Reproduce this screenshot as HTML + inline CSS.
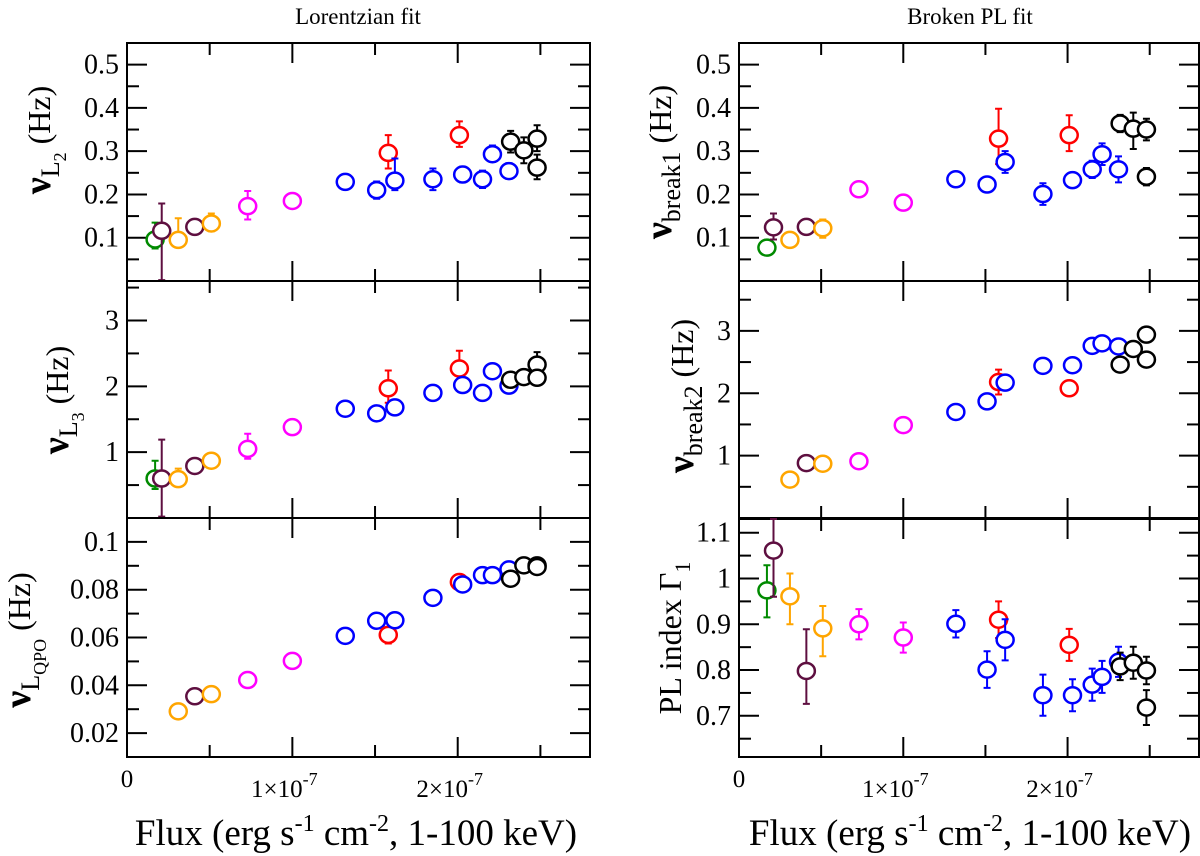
<!DOCTYPE html>
<html><head><meta charset="utf-8"><style>
html,body{margin:0;padding:0;background:#fff;}
svg{display:block;font-family:"Liberation Serif",serif;}
</style></head><body>
<svg id="chart" width="1200" height="856" viewBox="0 0 1200 856" xmlns="http://www.w3.org/2000/svg">
<text x="358" y="24" font-size="23" text-anchor="middle">Lorentzian fit</text>
<text x="970" y="24" font-size="23" text-anchor="middle">Broken PL fit</text>
<g id="layer"></g>
</svg>
<script>
const flux=[0.17,0.21,0.31,0.41,0.51,0.73,1.00,1.32,1.51,1.58,1.62,1.85,2.01,2.03,2.15,2.21,2.31,2.32,2.40,2.48,2.48];
const groups=["g","m","o","m","o","p","p","b","b","r","b","b","r","b","b","b","b","k","k","k","k"];
const xTickLabels=["0","1×10","2×10"];
// Left top: nu L2
const ltVal=[0.096,0.116,0.095,0.125,0.133,0.173,0.185,0.229,0.21,0.296,0.232,0.235,0.337,0.246,0.235,0.293,0.254,0.322,0.302,0.329,0.262];
const ltLo=[0.075,0.002,0.085,0.115,0.115,0.142,0.178,0.222,0.19,0.26,0.21,0.21,0.31,0.228,0.215,0.275,0.236,0.297,0.272,0.30,0.235];
const ltHi=[0.135,0.179,0.145,0.135,0.156,0.208,0.192,0.236,0.23,0.337,0.283,0.26,0.369,0.264,0.255,0.313,0.272,0.347,0.332,0.36,0.292];
// Left middle: nu L3
const lmVal=[0.60,0.60,0.59,0.79,0.87,1.05,1.38,1.66,1.59,1.97,1.68,1.90,2.27,2.02,1.90,2.23,2.01,2.10,2.14,2.33,2.13];
const lmLo=[0.44,0.02,0.52,0.74,0.80,0.90,1.33,1.60,1.51,1.75,1.61,1.82,2.20,1.94,1.85,2.15,1.95,2.02,2.06,2.25,2.05];
const lmHi=[0.87,1.19,0.75,0.84,0.97,1.28,1.43,1.72,1.67,2.24,1.75,1.98,2.54,2.10,1.95,2.31,2.07,2.18,2.22,2.52,2.21];
// Left bottom: nu LQPO
const lbVal=[null,null,0.0291,0.0354,0.0363,0.0422,0.0502,0.0607,0.0670,0.0611,0.0672,0.0766,0.0832,0.0822,0.0861,0.0861,0.0885,0.0846,0.0902,0.0902,0.0895];
const lbLo=[null,null,0.0285,0.0350,0.0358,0.0418,0.0498,0.0603,0.0666,0.0575,0.0668,0.0762,0.0828,0.0818,0.0857,0.0857,0.0881,0.0842,0.0898,0.0898,0.0891];
const lbHi=[null,null,0.0297,0.0358,0.0368,0.0426,0.0506,0.0611,0.0674,0.0615,0.0676,0.0770,0.0836,0.0826,0.0865,0.0865,0.0889,0.0850,0.0906,0.0906,0.0899];
// Right top: nu break1
const rtVal=[0.077,0.124,0.095,0.125,0.122,0.212,0.181,0.235,0.223,0.329,0.275,0.201,0.337,0.233,0.258,0.293,0.258,0.364,0.352,0.350,0.241];
const rtLo=[0.072,0.096,0.09,0.11,0.10,0.197,0.176,0.22,0.208,0.27,0.25,0.176,0.30,0.228,0.238,0.268,0.228,0.344,0.305,0.325,0.221];
const rtHi=[0.082,0.156,0.10,0.14,0.142,0.227,0.186,0.25,0.238,0.398,0.30,0.226,0.383,0.238,0.278,0.318,0.288,0.384,0.389,0.375,0.261];
// Right middle: nu break2
const rmVal=[null,null,0.616,0.88,0.87,0.91,1.49,1.70,1.87,2.18,2.17,2.44,2.08,2.45,2.76,2.80,2.75,2.46,2.71,2.94,2.54];
const rmLo=[null,null,0.60,0.80,0.85,0.89,1.47,1.68,1.85,1.98,2.15,2.34,1.98,2.35,2.66,2.72,2.70,2.42,2.66,2.84,2.50];
const rmHi=[null,null,0.63,0.96,0.89,0.93,1.51,1.72,1.89,2.38,2.19,2.54,2.18,2.55,2.86,2.88,2.80,2.50,2.76,3.04,2.58];
// Right bottom: PL index Gamma1
const rbVal=[0.974,1.061,0.961,0.798,0.891,0.900,0.871,0.901,0.801,0.910,0.866,0.745,0.855,0.745,0.768,0.785,0.818,0.808,0.816,0.799,0.718];
const rbLo=[0.915,0.96,0.90,0.726,0.83,0.867,0.838,0.871,0.761,0.87,0.821,0.70,0.82,0.71,0.733,0.75,0.785,0.778,0.781,0.769,0.68];
const rbHi=[1.029,1.14,1.011,0.889,0.94,0.933,0.904,0.931,0.841,0.95,0.911,0.79,0.89,0.78,0.803,0.82,0.851,0.838,0.851,0.829,0.756];

const colors={g:"#008a00",m:"#5e0f40",o:"#ffa500",p:"#ff00ff",b:"#0000ff",r:"#ff0000",k:"#000000"};
const NS="http://www.w3.org/2000/svg";
const layer=document.getElementById('layer');
function el(tag,attrs,parent){const e=document.createElementNS(NS,tag);for(const k in attrs)e.setAttribute(k,attrs[k]);(parent||layer).appendChild(e);return e;}

function panel(name,x0,x1,y0,y1,ymin,ymax,major,minor,fmt,vals,lo,hi,showX){
  const g=el('g',{});
  
  
  const X=f=>x0+(f/2.8)*(x1-x0);
  const Y=v=>y1-(v-ymin)/(ymax-ymin)*(y1-y0);
  const fr=el('rect',{x:x0,y:y0,width:x1-x0,height:y1-y0,fill:'none',stroke:'#000','stroke-width':2},g);
  
  
  [0.5,1,1.5,2,2.5].forEach(t=>{
    const L=(t%1===0)?20:12;
    el('line',{x1:X(t),x2:X(t),y1:y1,y2:y1-L,stroke:'#000','stroke-width':2},g);
    el('line',{x1:X(t),x2:X(t),y1:y0,y2:y0+L,stroke:'#000','stroke-width':2},g);
  });
  minor.forEach(t=>{
    const yy=Y(t);
    el('line',{x1:x0,x2:x0+12,y1:yy,y2:yy,stroke:'#000','stroke-width':2},g);
    el('line',{x1:x1,x2:x1-12,y1:yy,y2:yy,stroke:'#000','stroke-width':2},g);
  });
  major.forEach(t=>{
    const yy=Y(t);
    el('line',{x1:x0,x2:x0+20,y1:yy,y2:yy,stroke:'#000','stroke-width':2},g);
    el('line',{x1:x1,x2:x1-20,y1:yy,y2:yy,stroke:'#000','stroke-width':2},g);
    const tx=el('text',{x:x0-8,y:yy+9,'font-size':28,'text-anchor':'end'},g);
    
    
    tx.textContent=fmt(t);
  });
  if(showX){
    [0,1,2].forEach(i=>{
      const t=el('text',{x:X(i)+(i?-8:0),y:i?797:787,'font-size':25,'text-anchor':'middle'},g);
      
      
      t.textContent=xTickLabels[i];
      if(i){const s=el('tspan',{dy:-12,'font-size':18},t);s.textContent='-7';}
    });
  }
  for(let i=0;i<flux.length;i++){
    if(vals[i]==null)continue;
    const c=colors[groups[i]];
    const cx=X(flux[i]);
    const yl=Math.min(y1,Y(lo[i])), yh=Math.max(y0,Y(hi[i]));
    const eb=el('path',{d:`M${cx},${yl}V${yh}M${cx-3.5},${yh}H${cx+3.5}M${cx-3.5},${yl}H${cx+3.5}`,stroke:c,'stroke-width':2,fill:'none'},g);
    
    
    const p=el('ellipse',{cx:cx,cy:Y(vals[i]),rx:8.5,ry:8,fill:'#fff',stroke:c,'stroke-width':2.5},g);
    
    
  }
}
const f1=v=>v.toFixed(1), f0=v=>String(v), f2=v=>v.toFixed(2);
const f1b=v=>(Math.abs(v-1)<1e-9?'1':v.toFixed(1));
panel('nu-l2',127,590,43,281,0,0.55,[0.1,0.2,0.3,0.4,0.5],[0.05,0.15,0.25,0.35,0.45],f1,ltVal,ltLo,ltHi,false);
panel('nu-l3',127,590,281,518,0,3.6,[1,2,3],[0.5,1.5,2.5,3.5],f0,lmVal,lmLo,lmHi,false);
panel('nu-lqpo',127,590,518,757,0.01,0.11,[0.02,0.04,0.06,0.08,0.1],[0.03,0.05,0.07,0.09],v=>v===0.1?'0.1':f2(v),lbVal,lbLo,lbHi,true);
panel('nu-break1',739,1199,43,281,0,0.55,[0.1,0.2,0.3,0.4,0.5],[0.05,0.15,0.25,0.35,0.45],f1,rtVal,rtLo,rtHi,false);
panel('nu-break2',739,1199,281,518,0,3.8,[1,2,3],[0.5,1.5,2.5,3.5],f0,rmVal,rmLo,rmHi,false);
panel('pl-index',739,1199,519,757,0.61,1.13,[0.7,0.8,0.9,1.0,1.1],[0.65,0.75,0.85,0.95,1.05],f1b,rbVal,rbLo,rbHi,true);

function ytitle(name,bx,cy,main,sub1,sub2,rest){
  const t=el('text',{transform:`translate(${bx},${cy}) rotate(-90)`,'text-anchor':'middle','font-size':32});
  
  
  const a=el('tspan',{'font-weight':'bold','font-size':38},t);a.textContent=main;
  if(sub1){const b=el('tspan',{dy:9,'font-size':26},t);b.textContent=sub1;}
  if(sub2){const c=el('tspan',{dy:7,'font-size':18},t);c.textContent=sub2;}
  const d=el('tspan',{dy:sub2?-16:(sub1?-9:0)},t);d.textContent=rest;
}
ytitle('y-axis-title-nu-l2',50,140,'ν','L','2',' (Hz)');
ytitle('y-axis-title-nu-l3',68,400,'ν','L','3',' (Hz)');
ytitle('y-axis-title-nu-lqpo',30,640,'ν','L','QPO',' (Hz)');
ytitle('y-axis-title-nu-break1',671,162,'ν','break1','',' (Hz)');
ytitle('y-axis-title-nu-break2',693,396,'ν','break2','',' (Hz)');
(function(){
  const t=el('text',{transform:'translate(681,638) rotate(-90)','text-anchor':'middle','font-size':32});
  
  
  const a=el('tspan',{},t);a.textContent='PL index Γ';
  const b=el('tspan',{dy:9,'font-size':22},t);b.textContent='1';
})();
[[356,'x-axis-title-left'],[970,'x-axis-title-right']].forEach(([cx,nm])=>{
  const t=el('text',{x:cx,y:845,'font-size':37,'text-anchor':'middle'});
  
  
  const parts=[['Flux (erg s',0,37],['-1',-14,24],[' cm',14,37],['-2',-14,24],[', 1-100 keV)',14,37]];
  parts.forEach(([s,dy,fs])=>{const sp=el('tspan',{dy:dy,'font-size':fs},t);sp.textContent=s;});
});
</script>
</body></html>
